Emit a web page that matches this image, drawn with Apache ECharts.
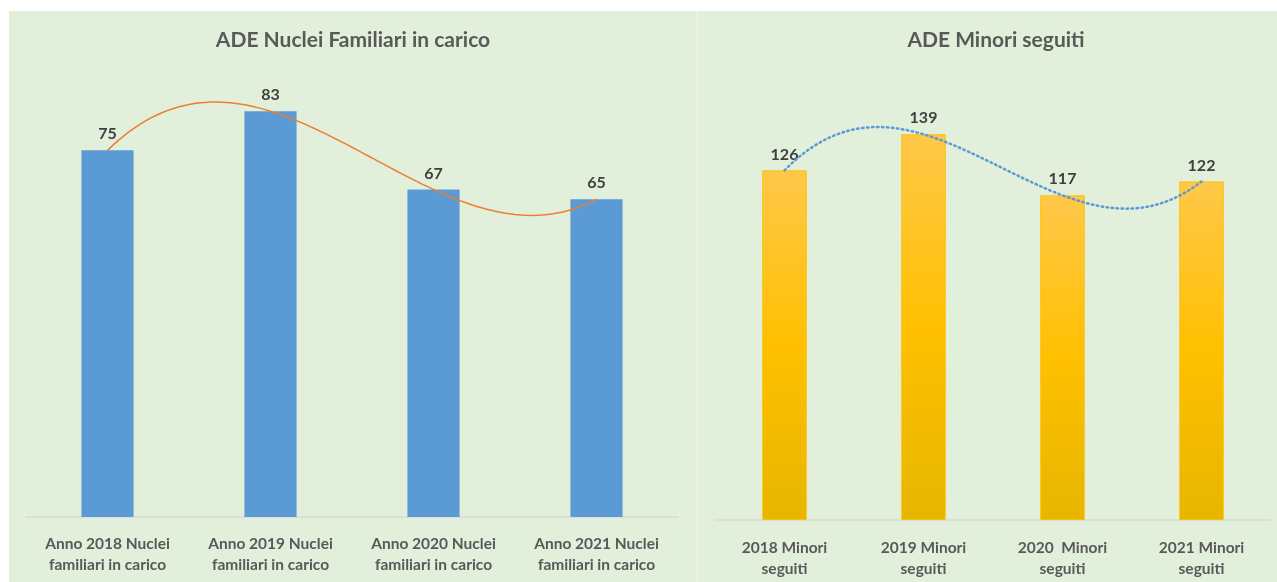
<!DOCTYPE html>
<html>
<head>
<meta charset="utf-8">
<script src="https://cdn.jsdelivr.net/npm/echarts@6/dist/echarts.min.js"></script>
<style>
  html, body { margin: 0; padding: 0; background: #ffffff; }
  #chart { width: 1277px; height: 582px; }
</style>
</head>
<body>
<div id="chart"></div>
<script>
// ADE (Assistenza Domiciliare Educativa) – andamento 2018-2021
const nucleiCategories = [
  'Anno 2018 Nuclei\nfamiliari in carico',
  'Anno 2019 Nuclei\nfamiliari in carico',
  'Anno 2020 Nuclei\nfamiliari in carico',
  'Anno 2021 Nuclei\nfamiliari in carico'
];
const nucleiValues = [75, 83, 67, 65];

const minoriCategories = [
  '2018 Minori\nseguiti',
  '2019 Minori\nseguiti',
  '2020  Minori\nseguiti',
  '2021 Minori\nseguiti'
];
const minoriValues = [126, 139, 117, 122];

const titleLeft = 'ADE Nuclei Familiari in carico';
const titleRight = 'ADE Minori seguiti';

const FONT = 'Lato, "Open Sans", sans-serif';
const BG = '#E2EFDA';

// Least-squares polynomial trendline (order 3) of a series, fitted on the
// category index; returns [x, y] pairs sampled along the fitted curve.
function polyTrend(values, order, steps) {
  const n = order + 1;
  const A = [];
  for (let r = 0; r < n; r++) {
    A.push(new Array(n + 1).fill(0));
  }
  values.forEach((y, x) => {
    for (let r = 0; r < n; r++) {
      for (let c = 0; c < n; c++) A[r][c] += Math.pow(x, r + c);
      A[r][n] += y * Math.pow(x, r);
    }
  });
  // Gaussian elimination
  for (let i = 0; i < n; i++) {
    let p = i;
    for (let k = i + 1; k < n; k++) if (Math.abs(A[k][i]) > Math.abs(A[p][i])) p = k;
    [A[i], A[p]] = [A[p], A[i]];
    for (let k = i + 1; k < n; k++) {
      const f = A[k][i] / A[i][i];
      for (let c = i; c <= n; c++) A[k][c] -= f * A[i][c];
    }
  }
  const coef = new Array(n).fill(0);
  for (let i = n - 1; i >= 0; i--) {
    let s = A[i][n];
    for (let c = i + 1; c < n; c++) s -= A[i][c] * coef[c];
    coef[i] = s / A[i][i];
  }
  const last = values.length - 1;
  const pts = [];
  for (let s = 0; s <= steps; s++) {
    const x = last * s / steps;
    let y = 0;
    for (let i = 0; i < n; i++) y += coef[i] * Math.pow(x, i);
    pts.push([x, y]);
  }
  return pts;
}

const chart = echarts.init(document.getElementById('chart'), null, { renderer: 'canvas' });

const catAxisLabel = {
  color: '#595959',
  fontFamily: FONT,
  fontWeight: 'bold',
  fontSize: 15.5,
  lineHeight: 21,
  interval: 0
};

const valueLabel = {
  show: true, position: 'top', distance: 8,
  color: '#404040', fontFamily: FONT, fontWeight: 'bold', fontSize: 16
};

// hidden value axes sharing each grid, aligned with the category centres
const trendAxis = (gridIndex) => ({
  gridIndex, type: 'value', min: -0.5, max: 3.5, show: false, splitLine: { show: false }
});

chart.setOption({
  backgroundColor: '#ffffff',
  animation: false,
  graphic: [
    { type: 'rect', z: -10, shape: { x: 9, y: 11, width: 1268, height: 571 }, style: { fill: '#E9F3E3' } },
    { type: 'rect', z: -10, shape: { x: 9, y: 11, width: 687, height: 571 }, style: { fill: BG } },
    { type: 'rect', z: -10, shape: { x: 698, y: 11, width: 579, height: 571 }, style: { fill: BG } },
    { type: 'text', x: 353, y: 30, style: { text: titleLeft, fill: '#595959', font: 'bold 21px ' + FONT, textAlign: 'center' } },
    { type: 'text', x: 996, y: 30, style: { text: titleRight, fill: '#595959', font: 'bold 21px ' + FONT, textAlign: 'center' } }
  ],
  grid: [
    { left: 26, right: 599, top: 77, bottom: 65 },
    { left: 715, right: 6, top: 76, bottom: 62 }
  ],
  xAxis: [
    {
      gridIndex: 0, type: 'category', data: nucleiCategories,
      axisLine: { lineStyle: { color: '#D9D9D9', width: 1.5 } },
      axisTick: { show: false },
      axisLabel: Object.assign({ margin: 16 }, catAxisLabel)
    },
    {
      gridIndex: 1, type: 'category', data: minoriCategories,
      axisLine: { lineStyle: { color: '#D9D9D9', width: 1.5 } },
      axisTick: { show: false },
      axisLabel: Object.assign({ margin: 17 }, catAxisLabel)
    },
    trendAxis(0),
    trendAxis(1)
  ],
  yAxis: [
    { gridIndex: 0, type: 'value', min: 0, max: 90, show: false, splitLine: { show: false } },
    { gridIndex: 1, type: 'value', min: 0, max: 160, show: false, splitLine: { show: false } }
  ],
  series: [
    {
      type: 'bar', xAxisIndex: 0, yAxisIndex: 0, data: nucleiValues,
      barWidth: '32%',
      itemStyle: { color: '#5B9BD5' },
      label: valueLabel
    },
    {
      name: 'Polinomiale (Nuclei)',
      type: 'line', xAxisIndex: 2, yAxisIndex: 0, data: polyTrend(nucleiValues, 3, 90),
      symbol: 'none', z: 5,
      lineStyle: { color: '#ED7D31', width: 1.5 }
    },
    {
      type: 'bar', xAxisIndex: 1, yAxisIndex: 1, data: minoriValues,
      barWidth: '32%',
      itemStyle: {
        color: new echarts.graphic.LinearGradient(0, 0, 0, 1, [
          { offset: 0, color: '#FFC84A' },
          { offset: 0.5, color: '#FFC000' },
          { offset: 1, color: '#E6B600' }
        ]),
        borderColor: '#FFC000',
        borderWidth: 1
      },
      label: valueLabel
    },
    {
      name: 'Polinomiale (Minori)',
      type: 'line', xAxisIndex: 3, yAxisIndex: 1, data: polyTrend(minoriValues, 3, 90),
      symbol: 'none', z: 5,
      lineStyle: { color: '#5B9BD5', width: 2.5, type: [1.5, 3.5], cap: 'round' }
    }
  ]
});
</script>
</body>
</html>
